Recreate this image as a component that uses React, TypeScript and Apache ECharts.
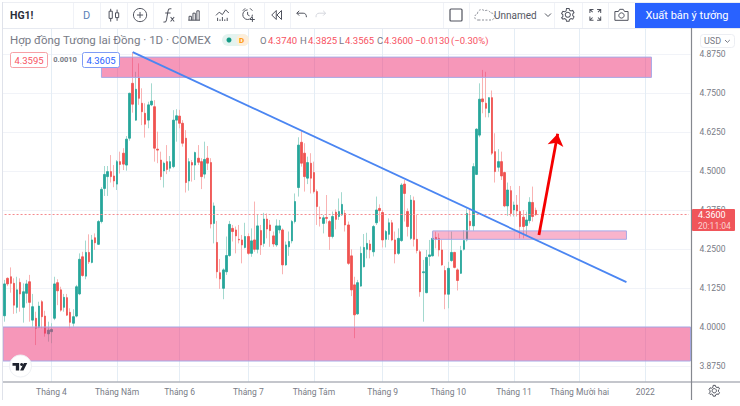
import React, { useEffect, useRef } from "react";
import * as echarts from "echarts";

const opens = [
  4.036,4.156,4.161,4.140,4.063,4.143,4.063,4.108,4.145,4.022,
  4.028,3.999,4.081,4.035,3.978,3.985,4.028,4.142,4.119,4.063,
  4.094,4.047,4.012,4.035,4.106,4.225,4.163,4.239,4.207,4.286,
  4.265,4.338,4.444,4.482,4.498,4.484,4.458,4.530,4.557,4.519,
  4.605,4.781,4.663,4.800,4.717,4.685,4.663,4.712,4.706,4.570,
  4.535,4.500,4.530,4.509,4.514,4.663,4.676,4.653,4.605,4.468,
  4.527,4.519,4.541,4.530,4.490,4.541,4.527,4.332,4.271,4.174,
  4.124,4.177,4.229,4.316,4.311,4.281,4.279,4.255,4.290,4.236,
  4.279,4.249,4.309,4.268,4.346,4.327,4.292,4.263,4.311,4.311,
  4.199,4.257,4.276,4.338,4.447,4.592,4.557,4.477,4.525,4.495,
  4.434,4.351,4.332,4.351,4.338,4.290,4.368,4.354,4.359,4.364,
  4.327,4.228,4.135,4.042,4.131,4.193,4.249,4.266,4.241,4.334,
  4.380,4.367,4.281,4.297,4.334,4.279,4.236,4.277,4.458,4.370,
  4.284,4.405,4.281,4.241,4.174,4.110,4.226,4.228,4.287,4.284,
  4.247,4.181,4.105,4.213,4.239,4.183,4.172,4.249,4.279,4.339,
  4.324,4.489,4.615,4.731,4.717,4.687,4.735,4.562,4.512,4.530,
  4.495,4.388,4.437,4.375,4.391,4.370,4.352,4.325,4.341,4.399,4.374,
];
const closes = [
  4.138,4.138,4.140,4.070,4.119,4.106,4.113,4.138,4.079,4.065,
  3.996,4.067,4.033,3.980,3.990,3.992,4.138,4.116,4.054,4.095,
  4.038,4.015,4.033,4.129,4.217,4.165,4.239,4.209,4.279,4.270,
  4.338,4.441,4.489,4.498,4.482,4.468,4.530,4.521,4.522,4.602,
  4.749,4.714,4.762,4.733,4.690,4.650,4.712,4.724,4.573,4.567,
  4.482,4.525,4.505,4.530,4.663,4.677,4.653,4.589,4.463,4.530,
  4.519,4.559,4.528,4.482,4.537,4.525,4.330,4.388,4.177,4.154,
  4.183,4.229,4.329,4.306,4.292,4.279,4.263,4.290,4.236,4.276,
  4.249,4.324,4.263,4.346,4.314,4.309,4.266,4.324,4.324,4.199,
  4.263,4.274,4.338,4.402,4.583,4.525,4.482,4.527,4.477,4.434,
  4.386,4.348,4.350,4.348,4.290,4.354,4.345,4.370,4.393,4.327,
  4.204,4.119,4.039,4.142,4.236,4.255,4.268,4.247,4.322,4.375,
  4.373,4.279,4.306,4.334,4.279,4.234,4.284,4.455,4.428,4.322,
  4.407,4.281,4.245,4.113,4.177,4.223,4.231,4.284,4.281,4.247,
  4.199,4.105,4.188,4.239,4.191,4.149,4.245,4.277,4.364,4.325,
  4.514,4.634,4.730,4.722,4.701,4.735,4.557,4.498,4.530,4.484,
  4.388,4.439,4.364,4.391,4.372,4.322,4.322,4.343,4.400,4.354,4.360,
];
const highs = [
  4.151,4.159,4.191,4.156,4.161,4.156,4.140,4.151,4.167,4.106,
  4.049,4.081,4.086,4.052,4.017,4.012,4.161,4.153,4.129,4.106,
  4.106,4.060,4.057,4.135,4.236,4.241,4.277,4.297,4.295,4.300,
  4.343,4.448,4.516,4.516,4.551,4.519,4.535,4.562,4.573,4.612,
  4.751,4.881,4.818,4.845,4.765,4.717,4.722,4.781,4.727,4.626,
  4.562,4.530,4.583,4.548,4.695,4.698,4.696,4.663,4.631,4.541,
  4.535,4.562,4.583,4.541,4.594,4.580,4.541,4.399,4.340,4.218,
  4.188,4.290,4.340,4.327,4.322,4.327,4.295,4.334,4.300,4.316,
  4.402,4.359,4.327,4.366,4.364,4.343,4.306,4.345,4.343,4.316,
  4.274,4.306,4.343,4.428,4.608,4.631,4.589,4.546,4.557,4.530,
  4.441,4.386,4.359,4.423,4.343,4.370,4.377,4.412,4.432,4.375,
  4.338,4.249,4.161,4.151,4.258,4.298,4.302,4.279,4.327,4.418,
  4.393,4.375,4.311,4.348,4.343,4.306,4.316,4.461,4.471,4.380,
  4.423,4.418,4.359,4.247,4.215,4.247,4.279,4.306,4.306,4.300,
  4.279,4.196,4.209,4.306,4.241,4.188,4.260,4.311,4.380,4.380,
  4.525,4.637,4.781,4.824,4.818,4.736,4.758,4.621,4.570,4.562,
  4.498,4.463,4.452,4.402,4.423,4.452,4.375,4.370,4.416,4.450,4.3825,
];
const lows = [
  4.017,4.131,4.110,4.042,4.044,4.049,4.014,4.076,4.017,4.001,
  3.942,3.996,3.996,3.969,3.953,3.948,4.022,4.070,4.049,4.049,
  4.035,3.996,4.001,4.031,4.102,4.161,4.153,4.202,4.204,4.247,
  4.263,4.332,4.420,4.420,4.463,4.448,4.439,4.492,4.503,4.501,
  4.597,4.687,4.661,4.712,4.647,4.607,4.637,4.708,4.530,4.525,
  4.471,4.447,4.490,4.498,4.509,4.594,4.637,4.578,4.431,4.437,
  4.466,4.471,4.519,4.442,4.476,4.503,4.316,4.268,4.156,4.122,
  4.089,4.167,4.225,4.274,4.236,4.268,4.204,4.252,4.231,4.225,
  4.241,4.236,4.231,4.257,4.284,4.257,4.257,4.257,4.300,4.169,
  4.196,4.228,4.268,4.332,4.418,4.514,4.434,4.458,4.428,4.428,
  4.327,4.322,4.300,4.332,4.247,4.284,4.313,4.343,4.356,4.306,
  4.199,4.099,3.964,4.039,4.129,4.191,4.220,4.220,4.226,4.327,
  4.338,4.255,4.255,4.279,4.275,4.204,4.231,4.273,4.338,4.290,
  4.279,4.258,4.236,4.097,4.017,4.108,4.196,4.226,4.252,4.226,
  4.196,4.057,4.060,4.209,4.188,4.117,4.170,4.245,4.274,4.309,
  4.308,4.487,4.608,4.685,4.672,4.672,4.551,4.463,4.498,4.471,
  4.384,4.356,4.354,4.354,4.354,4.284,4.284,4.295,4.332,4.338,4.3565,
];

const priceTicks = [3.875, 4.0, 4.125, 4.25, 4.375, 4.5, 4.625, 4.75, 4.875];
const monthNames = ["Tháng 4", "Tháng Năm", "Tháng 6", "Tháng 7", "Tháng Tám", "Tháng 9", "Tháng 10", "Tháng 11", "Tháng Mười hai", "2022"];
const monthBars = [15, 36, 56, 78, 99, 121, 142, 163, 184, 205];
const barSlots = 220;
const lastPrice = 4.36;
const priceMin = 3.8237;
const priceMax = 4.9583;

const zoneTop = { fromBar: 31, toBar: 207, high: 4.865, low: 4.8 };
const zoneMiddle = { fromBar: 137, toBar: 199, high: 4.308, low: 4.281 };
const zoneBottom = { high: 4.0, low: 3.891 };
const trendLine = { fromBar: 41, fromPrice: 4.881, toBar: 199, toPrice: 4.144 };
const arrowLine = { fromBar: 171, fromPrice: 4.295, toBar: 177, toPrice: 4.619 };

const FONT = "Roboto, sans-serif";
const INK = "#50535e";

const iconPaths: Record<string, string> = {
  icCandle: "M4 1v3M4 13v4M2 4h4v9H2zM12 2v4M12 12v4M10 6h4v6h-4z",
  icPlus: "M8 0.5a7.5 7.5 0 1 0 .01 0zM8 4.5v7M4.5 8h7",
  icFx: "M10 1c-3-1-3.5 .5-4 3L4.5 13c-.5 2.5-1.5 3-3.5 2.5M3 5.5h6M9 10l4 5M13 10l-4 5",
  icBars: "M1 15h15M2 15v-5h3v5M7 15V6h3v9M12 15V3h3v12",
  icInd: "M0 8l4-4 4 3 4-6 4 4M2 11v4M5 13v2M8 10v5M11 13v2M14 11v4",
  icAlarm: "M7 3a6 6 0 1 0 6 6M7 5.5V9l2.5 1.5M1 4l3-3M10 1l3 3M13 12v6M10 15h6",
  icRewind: "M7 2L1 8l6 6zM14 2L8 8l6 6z",
  icUndo: "M4 1L1 4l3 3M1 4h8c3 0 4 2 4 5",
  icRedo: "M9 1l3 3-3 3M12 4H4C1 4 0 6 0 9",
  icCloud: "M4 12H3a3 3 0 0 1-.5-6 4 4 0 0 1 7-3 4 4 0 0 1 6 2 3.5 3.5 0 0 1 1 7H4z",
  icChev: "M0 0l3 3 3-3",
  icGear: "M8 5a3 3 0 1 0 .01 0zM6.5 .5h3l.5 2 1.8 1 2-.6 1.5 2.6-1.5 1.5v2l1.5 1.5-1.5 2.6-2-.6-1.8 1-.5 2h-3l-.5-2-1.8-1-2 .6L.7 11.5l1.5-1.5V8L.7 6.5l1.5-2.6 2 .6 1.8-1z",
  icFull: "M1 5V1h4M9 1h4v4M13 9v4H9M5 13H1V9M1 1l3 3M13 1l-3 3M13 13l-3-3M1 13l3-3",
  icCamera: "M1 4h4l1.5-2.5h4L12 4h4v10H1zM8.5 5.5a3 3 0 1 0 .01 0z",
  icLogo: "M0 0h7v8H3.5V3H0zM9.6 0a1.6 1.6 0 1 0 .01 0zM12 0h3.5l-4 8H8z",
};
Object.keys(iconPaths).forEach((name) => {
  echarts.graphic.registerShape(name, (echarts.graphic as any).extendPath(iconPaths[name], {}));
});

const icon = (type: string, x: number, y: number, scale = 1, stroke = INK, extra: any = {}) => ({
  type, x, y, scaleX: scale, scaleY: scale, silent: true, z: 30,
  style: { fill: "none", stroke, lineWidth: 1 / scale, ...extra },
});
const label = (text: string, x: number, y: number, fill: string, size: number, extra: any = {}) => ({
  type: "text", x, y, silent: true, z: 31,
  style: { text, fill, font: `${extra.weight || "normal"} ${size}px ${FONT}`, textAlign: extra.align || "left", textVerticalAlign: "middle" },
});
const hLine = (x1: number, x2: number, y: number, stroke: string, width = 1) => ({
  type: "line", silent: true, z: 25, shape: { x1, y1: y, x2, y2: y }, style: { stroke, lineWidth: width },
});
const vLine = (x: number, y1: number, y2: number, stroke: string, width = 1) => ({
  type: "line", silent: true, z: 25, shape: { x1: x, y1, x2: x, y2 }, style: { stroke, lineWidth: width },
});
const box = (x: number, y: number, width: number, height: number, fill: string, stroke = "none", r = 2) => ({
  type: "rect", silent: true, z: 26, shape: { x, y, width, height, r }, style: { fill, stroke, lineWidth: 1 },
});

const chrome: any[] = [
  hLine(3, 740, 2.5, "#eceef3"),
  hLine(3, 740, 28.5, "#e6e9f0"),
  vLine(2.5, 2, 400, "#dfe2ea"),
  hLine(3, 740, 382, "#b0b3bb", 1.5),
  vLine(691.5, 28, 400, "#85888f", 1.2),
  ...[73, 100, 127, 153, 181, 208, 234, 264, 290, 443, 469, 554, 582, 608].map((x) => vLine(x + 0.5, 3, 28, "#f0f2f7")),
  label("HG1!", 10, 15, "#2a2e39", 10.5, { weight: "bold" }),
  label("D", 86.5, 15, "#5c7fb8", 11, { align: "center" }),
  icon("icCandle", 107.5, 8, 0.8),
  icon("icPlus", 133, 8, 0.88),
  icon("icFx", 162.5, 8, 0.9),
  icon("icBars", 187.5, 8.5, 0.78),
  icon("icInd", 216, 9, 0.8),
  icon("icAlarm", 242, 7.5, 0.8),
  icon("icRewind", 271, 9, 0.75),
  icon("icUndo", 296, 10, 0.8),
  icon("icRedo", 316, 10, 0.8, "#d5d7de"),
  { type: "rect", silent: true, z: 30, shape: { x: 450, y: 9, width: 12, height: 12, r: 1 }, style: { fill: "none", stroke: INK, lineWidth: 1.2 } },
  icon("icCloud", 475, 8, 1, "#8a8d96", { lineDash: [2, 1.5] }),
  label("Unnamed", 494, 15, "#555862", 10),
  icon("icChev", 545, 13.5, 1, "#555862"),
  icon("icGear", 561, 8, 0.85),
  icon("icFull", 589, 8.5, 0.9),
  icon("icCamera", 614, 8, 0.88),
  box(635, 3, 105, 25, "#2962ff", "none", 0),
  label("Xuất bản ý tưởng", 687, 15.5, "#ffffff", 11, { align: "center" }),
  label("Hợp đồng Tương lai Đồng · 1D · COMEX", 10, 40, "#787b86", 11.5),
  box(222, 34, 27, 12, "#e4f3ef", "none", 6),
  box(236, 34, 13, 12, "#fdeed9", "none", 6),
  { type: "circle", silent: true, z: 30, shape: { cx: 229, cy: 40, r: 2.5 }, style: { fill: "#149a85" } },
  label("D", 241.5, 40, "#ff9800", 8, { align: "center", weight: "bold" }),
  label("O", 260, 40, "#787b86", 9.5),
  label("4.3740", 268, 40, "#f7525f", 9.5),
  label("H", 300, 40, "#787b86", 9.5),
  label("4.3825", 308, 40, "#f7525f", 9.5),
  label("L", 339, 40, "#787b86", 9.5),
  label("4.3565", 345, 40, "#f7525f", 9.5),
  label("C", 377, 40, "#787b86", 9.5),
  label("4.3600", 384, 40, "#f7525f", 9.5),
  label("−0.0130", 415, 40, "#f7525f", 9.5),
  label("(−0.30%)", 451, 40, "#f7525f", 9.5),
  box(10.5, 52.5, 37, 15, "#ffffff", "#f7a0a5", 2),
  label("4.3595", 29, 60, "#f7525f", 9.5, { align: "center" }),
  label("0.0010", 65, 59.5, "#787b86", 7.5, { align: "center", weight: "bold" }),
  box(82.5, 52.5, 37, 15, "#ffffff", "#7f9cf5", 2),
  label("4.3605", 101, 60, "#2962ff", 9.5, { align: "center" }),
  box(700.5, 34.5, 34, 13, "#ffffff", "#eceef3", 3),
  label("USD", 704, 41, "#787b86", 9),
  icon("icChev", 725, 40, 0.8, "#787b86"),
  box(692, 209, 43, 22, "#f0555a", "none", 1),
  label("4.3600", 698, 215, "#ffffff", 9),
  label("20:11:04", 698, 225.5, "#fbd3d3", 8.5),
  icon("icGear", 708.5, 385, 0.72, "#50535e"),
  { type: "circle", silent: true, z: 29, shape: { cx: 20.5, cy: 366, r: 11 }, style: { fill: "#ffffff", stroke: "#eef0f4", lineWidth: 1 } },
  { type: "icLogo", x: 12.5, y: 363, scaleX: 0.95, scaleY: 0.95, silent: true, z: 30, style: { fill: "#1e222d", stroke: "none" } },
];

function App() {
  const ref = useRef<HTMLDivElement>(null);
  useEffect(() => {
    const chart = echarts.init(ref.current!, null, { renderer: "svg" });
    const categories = Array.from({ length: barSlots }, (_, i) => `bar${i}`);
    const wickData = opens.map((o, i) => [o, closes[i], lows[i], highs[i]]);
    const bodyData = opens.map((o, i) => [o, closes[i], Math.min(o, closes[i]), Math.max(o, closes[i])]);
    const hGrid = { color: "#f1f3f8", width: 1, type: "solid" as const };
    const vGrid = { color: "#e4edf5", width: 1, type: "solid" as const };
    chart.setOption({
      animation: false,
      backgroundColor: "#ffffff",
      grid: { left: 3, top: 28, width: 687.5, height: 354, containLabel: false },
      xAxis: {
        type: "category",
        data: categories,
        boundaryGap: true,
        axisLine: { show: false },
        axisTick: { show: false },
        splitLine: { show: false },
        axisLabel: {
          margin: 5,
          fontSize: 8.5,
          fontFamily: FONT,
          color: "#787b86",
          interval: (i: number) => monthBars.includes(i),
          formatter: (_: string, i: number) => monthNames[monthBars.indexOf(i)] ?? "",
        },
      },
      yAxis: {
        type: "value",
        position: "right",
        min: priceMin,
        max: priceMax,
        scale: true,
        axisLine: { show: false },
        axisTick: { show: false },
        splitLine: { show: false },
        axisLabel: {
          customValues: priceTicks,
          margin: 9,
          fontSize: 8.5,
          fontFamily: FONT,
          color: "#787b86",
          formatter: (v: number) => v.toFixed(4),
        },
      },
      series: [
        {
          type: "candlestick",
          name: "wicks",
          z: 2,
          barWidth: 1,
          data: wickData,
          itemStyle: { color: "#a3d9cf", color0: "#f9b3b3", borderColor: "#a3d9cf", borderColor0: "#f9b3b3", borderWidth: 1 },
          markLine: {
            silent: true, z: 1, symbol: "none", label: { show: false }, precision: 4,
            data: [
              ...priceTicks.map((p) => ({ yAxis: p, lineStyle: hGrid })),
              ...monthBars.map((b) => ({ xAxis: b, lineStyle: vGrid })),
            ],
          },
        },
        {
          type: "candlestick",
          name: "bodies",
          z: 2,
          barWidth: 2,
          data: bodyData,
          itemStyle: { color: "#26a69a", color0: "#ef5350", borderColor: "#26a69a", borderColor0: "#ef5350", borderWidth: 0.8 },
          markArea: {
            silent: true, z: 3,
            data: [
              [
                { yAxis: zoneBottom.high, itemStyle: { color: "rgba(238,48,115,0.5)", borderColor: "#a6a9e6", borderWidth: 1 } },
                { yAxis: zoneBottom.low },
              ],
              [
                { xAxis: zoneTop.fromBar, yAxis: zoneTop.high, itemStyle: { color: "rgba(238,48,115,0.5)", borderColor: "#a6a9e6", borderWidth: 1 } },
                { xAxis: zoneTop.toBar, yAxis: zoneTop.low },
              ],
              [
                { xAxis: zoneMiddle.fromBar, yAxis: zoneMiddle.high, itemStyle: { color: "rgba(238,48,115,0.36)", borderColor: "#a6a9e6", borderWidth: 1 } },
                { xAxis: zoneMiddle.toBar, yAxis: zoneMiddle.low },
              ],
            ],
          },
          markLine: {
            silent: true, z: 6, symbol: "none", label: { show: false }, precision: 4,
            data: [
              [
                { xAxis: 0, yAxis: lastPrice, lineStyle: { color: "#f58a8e", width: 1, type: [2, 2] } },
                { xAxis: barSlots - 1, yAxis: lastPrice },
              ],
              [
                { xAxis: trendLine.fromBar, yAxis: trendLine.fromPrice, lineStyle: { color: "#4b86f2", width: 1.8, type: "solid" } },
                { xAxis: trendLine.toBar, yAxis: trendLine.toPrice },
              ],
              [
                { xAxis: arrowLine.fromBar, yAxis: arrowLine.fromPrice, symbol: "none", lineStyle: { color: "#f50000", width: 2.8, type: "solid" } },
                { xAxis: arrowLine.toBar, yAxis: arrowLine.toPrice, symbol: "arrow", symbolSize: 12 },
              ],
            ],
          },
        },
      ],
      graphic: { elements: chrome },
    });
    return () => chart.dispose();
  }, []);
  return <div ref={ref} style={{ position: "fixed", left: 0, top: 0, width: 740, height: 406 }} />;
}

export default App;
